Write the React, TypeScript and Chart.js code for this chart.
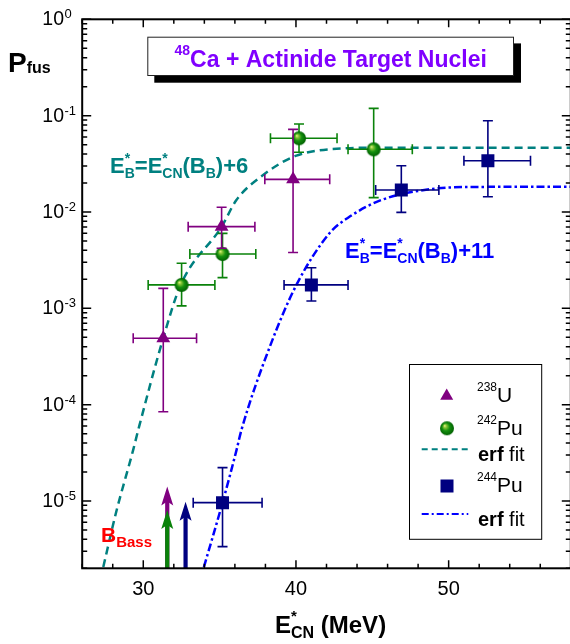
import React, { useEffect, useRef } from "react";
import { Chart, registerables } from "chart.js";

Chart.register(...registerables);

// ---------- data ----------
const u238E = [31.31, 35.13, 39.81];
const u238P = [4.89e-4, 7.04e-3, 2.18e-2];
const u238ELo = [29.34, 32.94, 37.96];
const u238EHi = [33.49, 37.31, 42.21];
const u238PLo = [8.45e-5, 4.2e-3, 3.8e-3];
const u238PHi = [1.61e-3, 1.12e-2, 7.2e-2];

const pu242E = [32.51, 35.19, 40.2, 45.09];
const pu242P = [1.75e-3, 3.66e-3, 5.82e-2, 4.47e-2];
const pu242ELo = [30.32, 33.05, 38.33, 43.41];
const pu242EHi = [34.69, 37.37, 42.69, 47.62];
const pu242PLo = [1.06e-3, 2.08e-3, 4.17e-2, 1.41e-2];
const pu242PHi = [2.93e-3, 6.0e-3, 8.2e-2, 0.119];

const pu244E = [35.19, 41.01, 46.9, 52.57];
const pu244P = [9.6e-6, 1.75e-3, 1.69e-2, 3.4e-2];
const pu244ELo = [33.27, 39.22, 45.22, 51.0];
const pu244EHi = [37.78, 43.41, 49.36, 55.36];
const pu244PLo = [3.36e-6, 1.19e-3, 9.9e-3, 1.44e-2];
const pu244PHi = [2.22e-5, 2.64e-3, 3.02e-2, 8.86e-2];

// erf fit curves
const fitAE = [27.38, 28.21, 29.34, 29.67, 31.31, 32.45, 35.13, 36.1, 37.85, 40.03, 43.3, 45.5, 50, 58];
const fitAP = [2.06e-6, 7.5e-6, 3.39e-5, 5.46e-5, 4.92e-4, 1.75e-3, 7.03e-3, 1.33e-2, 2.42e-2, 3.84e-2, 4.58e-2, 4.65e-2, 4.65e-2, 4.65e-2];
const fitBE = [33.97, 35.19, 36.11, 36.43, 38.29, 40.03, 42.21, 43.39, 45.59, 48.75, 52, 58];
const fitBP = [2.06e-6, 9.6e-6, 3.39e-5, 5.46e-5, 4.0e-4, 1.75e-3, 6.05e-3, 8.67e-3, 1.33e-2, 1.72e-2, 1.82e-2, 1.83e-2];

// Bass barrier arrows
const bassE = [31.57, 31.57, 32.77];
const bassTipP = [1.41e-5, 8.07e-6, 9.8e-6];
const bassColors = ["#800080", "#0a820a", "#000080"];

// axes
const xMin = 26;
const xMax = 58;
const yMin = 2e-6;
const yMax = 1;
const xMajorTicks = [30, 40, 50];
const xMinorStep = 2;
const yDecades = [0, -1, -2, -3, -4, -5];

// ---------- styles ----------
const FONT = '"Liberation Sans", Arial, Helvetica, sans-serif';
const PURPLE = "#800080";
const GREEN = "#0a820a";
const NAVY = "#000080";
const TEAL = "#008080";
const BLUE = "#0000ff";
const TITLE = "#8000ff";

const fnt = (s: number, b?: boolean) => `${b ? "bold " : ""}${s}px ${FONT}`;

type Part = { t: string; s: number; b?: boolean; dy?: number; adv?: boolean };

function drawRich(ctx: CanvasRenderingContext2D, parts: Part[], x: number, y: number, color: string, align: "left" | "center" | "right" = "left") {
  ctx.save();
  ctx.fillStyle = color;
  ctx.textBaseline = "alphabetic";
  ctx.textAlign = "left";
  let w = 0;
  for (const p of parts) {
    ctx.font = fnt(p.s, p.b);
    if (p.adv !== false) w += ctx.measureText(p.t).width;
  }
  let cx = align === "left" ? x : align === "center" ? x - w / 2 : x - w;
  for (const p of parts) {
    ctx.font = fnt(p.s, p.b);
    ctx.fillText(p.t, cx, y + (p.dy || 0));
    if (p.adv !== false) cx += ctx.measureText(p.t).width;
  }
  ctx.restore();
}

function makeSphere(r: number) {
  const c = document.createElement("canvas");
  const s = Math.ceil(r * 2) + 2;
  c.width = s;
  c.height = s;
  const g = c.getContext("2d")!;
  const cx = s / 2;
  const cy = s / 2;
  const grad = g.createRadialGradient(cx - r * 0.35, cy - r * 0.4, 0, cx, cy, r);
  grad.addColorStop(0, "#f4ff9a");
  grad.addColorStop(0.22, "#8cc838");
  grad.addColorStop(0.55, "#14900f");
  grad.addColorStop(1, "#006000");
  g.fillStyle = grad;
  g.beginPath();
  g.arc(cx, cy, r, 0, Math.PI * 2);
  g.fill();
  return c;
}

function drawArrow(ctx: CanvasRenderingContext2D, x: number, yBase: number, yTip: number, color: string) {
  ctx.save();
  ctx.fillStyle = color;
  ctx.strokeStyle = color;
  ctx.lineWidth = 4.2;
  ctx.beginPath();
  ctx.moveTo(x, yBase);
  ctx.lineTo(x, yTip + 12);
  ctx.stroke();
  ctx.beginPath();
  ctx.moveTo(x, yTip);
  ctx.lineTo(x + 6, yTip + 19);
  ctx.lineTo(x, yTip + 15);
  ctx.lineTo(x - 6, yTip + 19);
  ctx.closePath();
  ctx.fill();
  ctx.restore();
}

const EB_LABEL = (tail: string): Part[] => [
  { t: "E", s: 22, b: true },
  { t: "*", s: 14, b: true, dy: -10, adv: false },
  { t: "B", s: 14, b: true, dy: 5 },
  { t: "=", s: 22, b: true },
  { t: "E", s: 22, b: true },
  { t: "*", s: 14, b: true, dy: -10, adv: false },
  { t: "CN", s: 14, b: true, dy: 5 },
  { t: "(", s: 22, b: true },
  { t: "B", s: 22, b: true },
  { t: "B", s: 14, b: true, dy: 5 },
  { t: ")", s: 22, b: true },
  { t: tail, s: 22, b: true },
];

export default function App() {
  const ref = useRef<HTMLCanvasElement | null>(null);

  useEffect(() => {
    const canvas = ref.current!;
    const sphere = makeSphere(7);

    const pts = (xs: number[], ys: number[]) => xs.map((x, i) => ({ x, y: ys[i] }));

    const errPlugin = {
      id: "errbars",
      beforeDatasetDraw(chart: any, args: any) {
        const ds = chart.data.datasets[args.index];
        const e = ds.errs;
        if (!e) return;
        const ctx = chart.ctx as CanvasRenderingContext2D;
        const xs = chart.scales.x;
        const ys = chart.scales.y;
        ctx.save();
        ctx.strokeStyle = e.color;
        ctx.lineWidth = 1.6;
        const cap = 5;
        for (let i = 0; i < e.E.length; i++) {
          const px = xs.getPixelForValue(e.E[i]);
          const py = ys.getPixelForValue(e.P[i]);
          const x1 = xs.getPixelForValue(e.ELo[i]);
          const x2 = xs.getPixelForValue(e.EHi[i]);
          const y1 = ys.getPixelForValue(e.PLo[i]);
          const y2 = ys.getPixelForValue(e.PHi[i]);
          ctx.beginPath();
          ctx.moveTo(x1, py);
          ctx.lineTo(x2, py);
          ctx.moveTo(x1, py - cap);
          ctx.lineTo(x1, py + cap);
          ctx.moveTo(x2, py - cap);
          ctx.lineTo(x2, py + cap);
          ctx.moveTo(px, y1);
          ctx.lineTo(px, y2);
          ctx.moveTo(px - cap, y1);
          ctx.lineTo(px + cap, y1);
          ctx.moveTo(px - cap, y2);
          ctx.lineTo(px + cap, y2);
          ctx.stroke();
        }
        ctx.restore();
      },
    };

    const decorPlugin = {
      id: "decor",
      afterDraw(chart: any) {
        const ctx = chart.ctx as CanvasRenderingContext2D;
        const xs = chart.scales.x;
        const ys = chart.scales.y;
        const a = chart.chartArea;

        // Bass arrows
        for (let i = 0; i < bassE.length; i++) {
          drawArrow(ctx, xs.getPixelForValue(bassE[i]), a.bottom, ys.getPixelForValue(bassTipP[i]), bassColors[i]);
        }

        // frame
        ctx.save();
        ctx.strokeStyle = "#000";
        ctx.lineWidth = 2;
        ctx.strokeRect(a.left, a.top, a.right - a.left, a.bottom - a.top);
        ctx.lineWidth = 1.5;
        ctx.beginPath();
        // x ticks (bottom + top, inward)
        for (let v = xMin; v <= xMax + 1e-9; v += xMinorStep) {
          const px = xs.getPixelForValue(v);
          const major = xMajorTicks.includes(v);
          const len = major ? 8 : 4.5;
          ctx.moveTo(px, a.bottom);
          ctx.lineTo(px, a.bottom - len);
          ctx.moveTo(px, a.top);
          ctx.lineTo(px, a.top + len);
        }
        // y ticks (left + right, inward)
        for (let d = 0; d >= -6; d--) {
          for (let m = 1; m <= 9; m++) {
            const v = m * Math.pow(10, d);
            if (v < yMin * 0.999 || v > yMax * 1.001) continue;
            const py = ys.getPixelForValue(v);
            const len = m === 1 ? 9 : 5;
            ctx.moveTo(a.left, py);
            ctx.lineTo(a.left + len, py);
            ctx.moveTo(a.right, py);
            ctx.lineTo(a.right - len, py);
          }
        }
        ctx.stroke();
        ctx.restore();

        // tick labels
        ctx.save();
        ctx.fillStyle = "#000";
        ctx.textBaseline = "alphabetic";
        ctx.font = fnt(20);
        ctx.textAlign = "center";
        for (const v of xMajorTicks) {
          ctx.fillText(String(v), xs.getPixelForValue(v), 595);
        }
        for (const d of yDecades) {
          const py = ys.getPixelForValue(Math.pow(10, d));
          ctx.font = fnt(19.5);
          ctx.textAlign = "right";
          ctx.fillText("10", 64, py + 6);
          ctx.font = fnt(13);
          ctx.textAlign = "left";
          ctx.fillText(String(d), 64.5, py - 1);
        }
        ctx.restore();

        // axis titles
        drawRich(ctx, [
          { t: "P", s: 28, b: true },
          { t: "fus", s: 16, b: true, dy: 1.6 },
        ], 8, 71.7, "#000");
        drawRich(ctx, [
          { t: "E", s: 24, b: true },
          { t: "*", s: 15, b: true, dy: -12, adv: false },
          { t: "CN", s: 16, b: true, dy: 5.7 },
          { t: " (MeV)", s: 24, b: true },
        ], 275, 632.7, "#000");

        // title box
        ctx.save();
        ctx.fillStyle = "#000";
        ctx.fillRect(154.3, 43.4, 366.7, 39.3);
        ctx.fillStyle = "#fff";
        ctx.fillRect(147.3, 36.7, 366.7, 39.3);
        ctx.strokeStyle = "#222";
        ctx.lineWidth = 1;
        ctx.strokeRect(147.8, 37.2, 365.7, 38.3);
        ctx.restore();
        drawRich(ctx, [
          { t: "48", s: 14, b: true, dy: -11.7 },
          { t: "Ca + Actinide Target Nuclei", s: 23, b: true },
        ], 330.7, 66.7, TITLE, "center");

        // curve labels
        drawRich(ctx, EB_LABEL("+6"), 110, 173, TEAL);
        drawRich(ctx, EB_LABEL("+11"), 345, 258.3, BLUE);
        drawRich(ctx, [
          { t: "B", s: 21, b: true },
          { t: "Bass", s: 15, b: true, dy: 5.6 },
        ], 101, 541.7, "#ff0000");

        // legend
        ctx.save();
        ctx.fillStyle = "#fff";
        ctx.fillRect(409, 364, 132.7, 175.3);
        ctx.strokeStyle = "#000";
        ctx.lineWidth = 1;
        ctx.strokeRect(409.5, 364.5, 132.2, 174.8);
        // triangle
        const tr = 7.5;
        const tx = 446.7;
        const ty = 396;
        ctx.fillStyle = PURPLE;
        ctx.beginPath();
        ctx.moveTo(tx, ty - tr);
        ctx.lineTo(tx + tr * 0.866, ty + tr * 0.5);
        ctx.lineTo(tx - tr * 0.866, ty + tr * 0.5);
        ctx.closePath();
        ctx.fill();
        // sphere
        ctx.drawImage(sphere, 447 - sphere.width / 2, 428.3 - sphere.height / 2);
        // teal dashed
        ctx.strokeStyle = TEAL;
        ctx.lineWidth = 2;
        ctx.setLineDash([6, 4]);
        ctx.beginPath();
        ctx.moveTo(421.7, 449.3);
        ctx.lineTo(468.3, 449.3);
        ctx.stroke();
        // square
        ctx.setLineDash([]);
        ctx.fillStyle = NAVY;
        ctx.fillRect(447 - 6.5, 486 - 6.5, 13, 13);
        // blue dash-dot
        ctx.strokeStyle = BLUE;
        ctx.setLineDash([7, 3, 2, 3]);
        ctx.beginPath();
        ctx.moveTo(421.7, 514);
        ctx.lineTo(468.3, 514);
        ctx.stroke();
        ctx.restore();

        drawRich(ctx, [{ t: "238", s: 12, dy: -11 }, { t: "U", s: 21 }], 477, 402, "#000");
        drawRich(ctx, [{ t: "242", s: 12, dy: -11 }, { t: "Pu", s: 21 }], 477, 435, "#000");
        drawRich(ctx, [{ t: "erf", s: 20, b: true }, { t: " fit", s: 20 }], 478, 461, "#000");
        drawRich(ctx, [{ t: "244", s: 12, dy: -11 }, { t: "Pu", s: 21 }], 477, 491.7, "#000");
        drawRich(ctx, [{ t: "erf", s: 20, b: true }, { t: " fit", s: 20 }], 478, 526, "#000");
      },
    };

    const chart = new Chart(canvas, {
      type: "scatter",
      data: {
        datasets: [
          {
            label: "238U",
            data: pts(u238E, u238P),
            pointStyle: "triangle",
            pointRadius: 8,
            backgroundColor: PURPLE,
            borderColor: PURPLE,
            borderWidth: 0,
            order: 0,
            errs: { E: u238E, P: u238P, ELo: u238ELo, EHi: u238EHi, PLo: u238PLo, PHi: u238PHi, color: PURPLE },
          } as any,
          {
            label: "242Pu",
            data: pts(pu242E, pu242P),
            pointStyle: sphere,
            pointRadius: 7,
            backgroundColor: GREEN,
            borderColor: GREEN,
            order: 0,
            errs: { E: pu242E, P: pu242P, ELo: pu242ELo, EHi: pu242EHi, PLo: pu242PLo, PHi: pu242PHi, color: GREEN },
          } as any,
          {
            label: "erf fit 242Pu",
            data: pts(fitAE, fitAP),
            showLine: true,
            pointRadius: 0,
            borderColor: TEAL,
            borderWidth: 2.5,
            borderDash: [8, 5],
            cubicInterpolationMode: "monotone",
            fill: false,
            order: 1,
          } as any,
          {
            label: "244Pu",
            data: pts(pu244E, pu244P),
            pointStyle: "rect",
            pointRadius: 9.2,
            backgroundColor: NAVY,
            borderColor: NAVY,
            borderWidth: 0,
            order: 0,
            errs: { E: pu244E, P: pu244P, ELo: pu244ELo, EHi: pu244EHi, PLo: pu244PLo, PHi: pu244PHi, color: NAVY },
          } as any,
          {
            label: "erf fit 244Pu",
            data: pts(fitBE, fitBP),
            showLine: true,
            pointRadius: 0,
            borderColor: BLUE,
            borderWidth: 2.5,
            borderDash: [8, 3, 2.5, 3],
            cubicInterpolationMode: "monotone",
            fill: false,
            order: 1,
          } as any,
        ],
      },
      options: {
        animation: false,
        responsive: false,
        devicePixelRatio: 1,
        events: [],
        layout: { padding: { left: 82.2, top: 19.3, right: 8.7, bottom: 75.7 } },
        plugins: { legend: { display: false }, tooltip: { enabled: false }, title: { display: false } },
        scales: {
          x: { type: "linear", min: xMin, max: xMax, display: false },
          y: { type: "logarithmic", min: yMin, max: yMax, display: false },
        },
      },
      plugins: [errPlugin, decorPlugin],
    } as any);

    return () => chart.destroy();
  }, []);

  return (
    <div style={{ position: "absolute", left: 0, top: 0, width: 570, height: 644, overflow: "hidden", background: "#fff" }}>
      <canvas ref={ref} width={580} height={644} style={{ width: 580, height: 644, display: "block" }} />
    </div>
  );
}
